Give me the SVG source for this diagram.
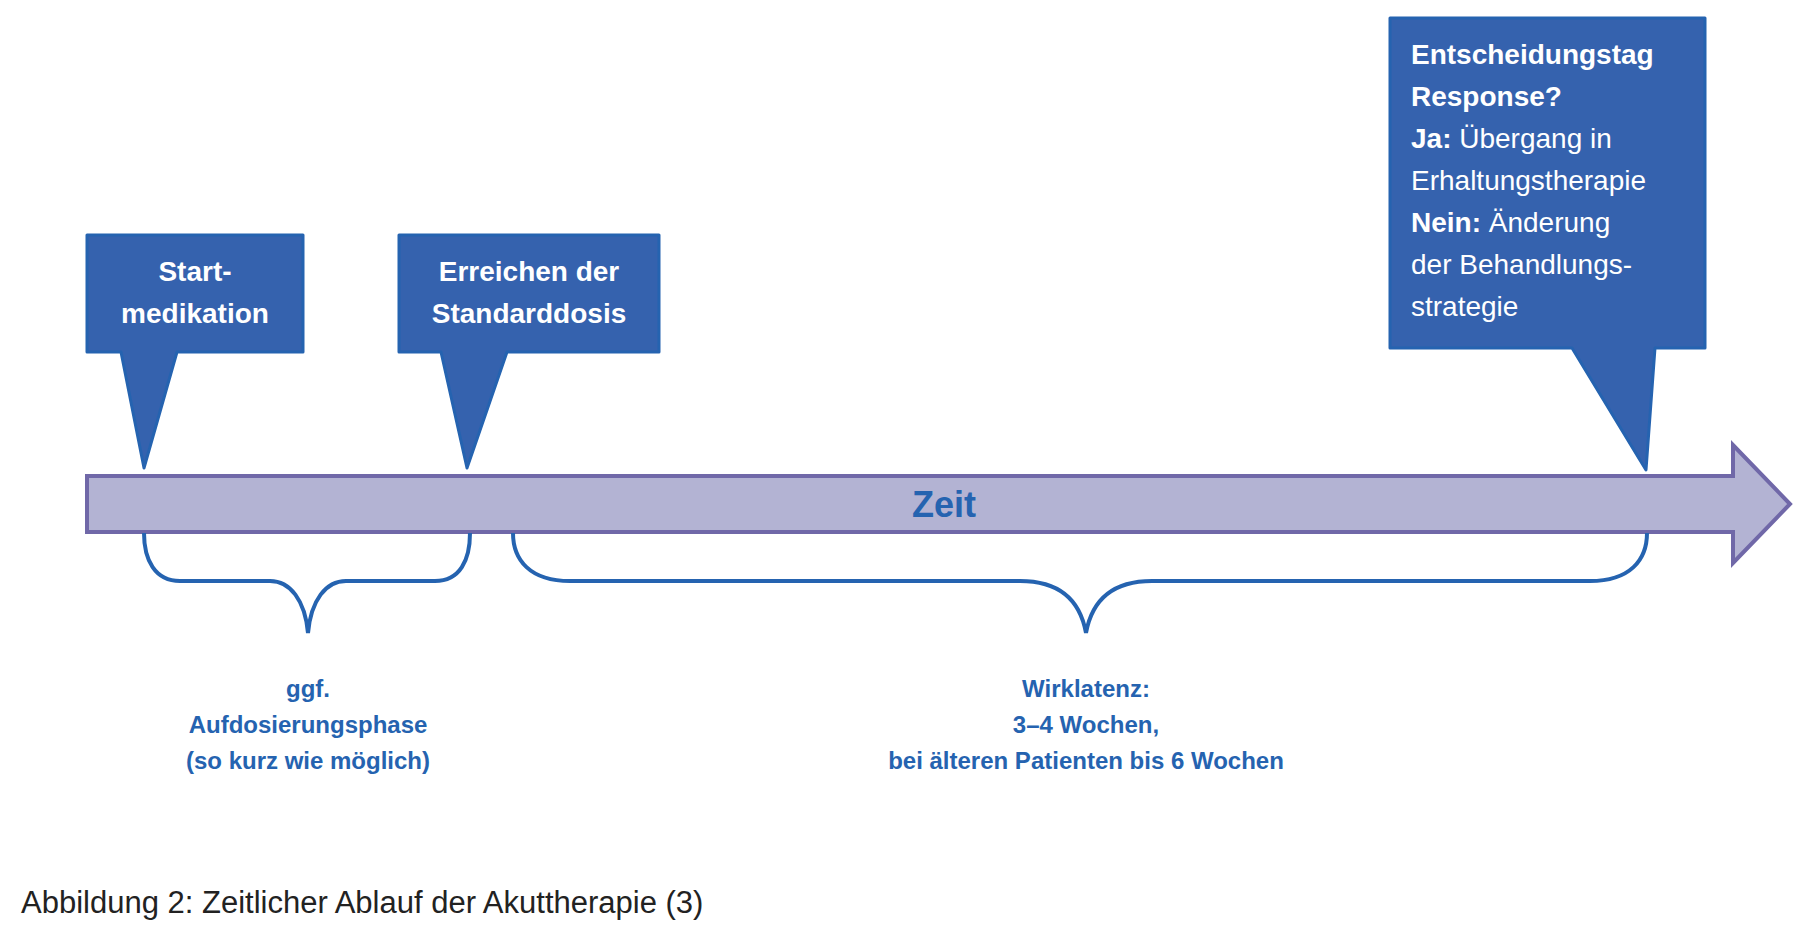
<svg xmlns="http://www.w3.org/2000/svg" width="1806" height="937" viewBox="0 0 1806 937">
<style>
.box{fill:#3562ae;stroke:#2563b0;stroke-width:3;stroke-linejoin:round}
.bt{font-family:"Liberation Sans",Arial,sans-serif;font-size:28px;fill:#fff}
.b{font-weight:bold}
.brace{fill:none;stroke:#2563b0;stroke-width:4}
.lbl{font-family:"Liberation Sans",Arial,sans-serif;font-size:24px;font-weight:bold;fill:#2563b0;text-anchor:middle}
</style>
<rect width="1806" height="937" fill="#fff"/>
<g id="timeline">
<path d="M87,476 H1733 V445 L1790,504 L1733,563 V532 H87 Z" fill="#b3b3d3" stroke="#7068a8" stroke-width="4"/>
<text x="944" y="517" font-family="Liberation Sans,Arial,sans-serif" font-size="36" font-weight="bold" fill="#2563b0" text-anchor="middle">Zeit</text>
</g>
<g id="start">
<path class="box" d="M87,235 H303 V352 H177 L144,468 L121,352 H87 Z"/>
<text class="bt b" x="195" y="281" text-anchor="middle">Start-</text>
<text class="bt b" x="195" y="323" text-anchor="middle">medikation</text>
</g>
<g id="standard">
<path class="box" d="M399,235 H659 V352 H507 L467,468 L441,352 H399 Z"/>
<text class="bt b" x="529" y="281" text-anchor="middle">Erreichen der</text>
<text class="bt b" x="529" y="323" text-anchor="middle">Standarddosis</text>
</g>
<g id="entscheidung">
<path class="box" d="M1390,18 H1705 V348 H1655 L1646,470 L1572,348 H1390 Z"/>
<text class="bt" x="1411" y="64"><tspan class="b">Entscheidungstag</tspan><tspan x="1411" dy="42" class="b">Response?</tspan><tspan x="1411" dy="42"><tspan class="b">Ja:</tspan> Übergang in</tspan><tspan x="1411" dy="42">Erhaltungstherapie</tspan><tspan x="1411" dy="42"><tspan class="b">Nein:</tspan> Änderung</tspan><tspan x="1411" dy="42">der Behandlungs-</tspan><tspan x="1411" dy="42">strategie</tspan></text>
</g>
<g id="connectors">
<path class="brace" d="M144,533 C144,560 155,581 180,581 H270 C290,581 305,600 308,633 C311,600 326,581 346,581 H435 C460,581 470,560 470,533"/>
<path class="brace" d="M513,533 C513,560 530,581 570,581 H1020 C1060,581 1080,600 1086,633 C1092,600 1112,581 1152,581 H1590 C1630,581 1647,560 1647,533"/>
</g>
<g id="labels">
<text class="lbl" x="308" y="697">ggf.</text>
<text class="lbl" x="308" y="733">Aufdosierungsphase</text>
<text class="lbl" x="308" y="769">(so kurz wie möglich)</text>
<text class="lbl" x="1086" y="697">Wirklatenz:</text>
<text class="lbl" x="1086" y="733">3–4 Wochen,</text>
<text class="lbl" x="1086" y="769">bei älteren Patienten bis 6 Wochen</text>
</g>
<text x="21" y="913" font-family="Liberation Sans,Arial,sans-serif" font-size="31" fill="#222">Abbildung 2: Zeitlicher Ablauf der Akuttherapie (3)</text>
</svg>
